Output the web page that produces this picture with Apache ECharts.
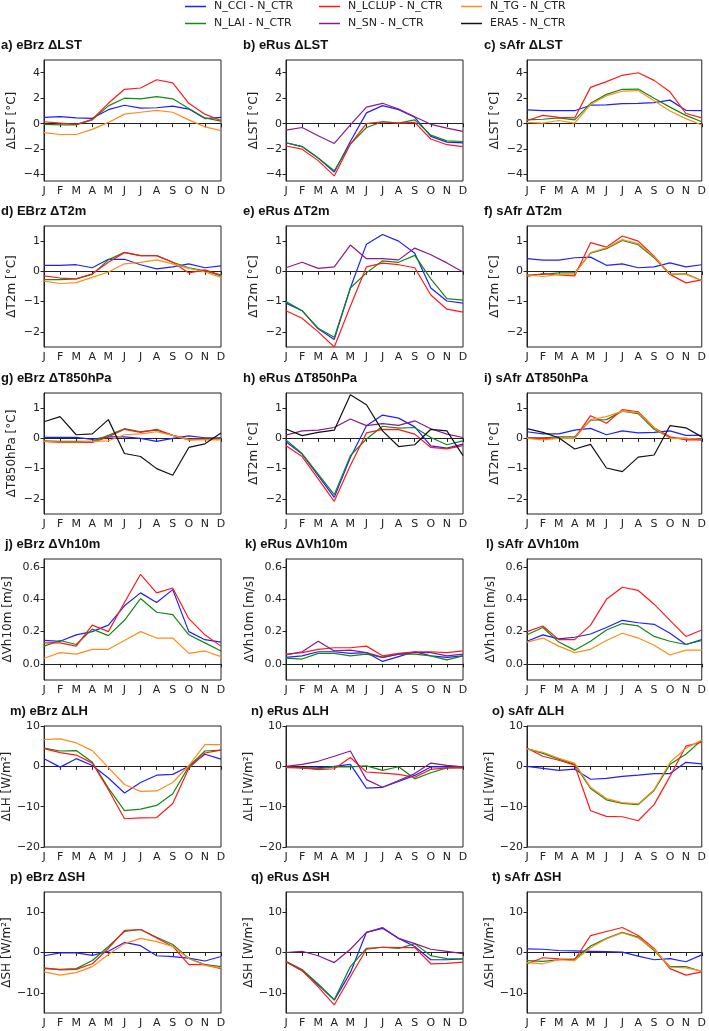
<!DOCTYPE html>
<html><head><meta charset="utf-8">
<script src="https://cdn.jsdelivr.net/npm/echarts@6/dist/echarts.min.js"></script>
<style>html,body{margin:0;padding:0;background:#fff}#c{width:709px;height:1031px}</style>
</head><body><div id="c"></div><script>
const MONTHS = ['J','F','M','A','M','J','J','A','S','O','N','D'];

// ---- LST ----
const lst_eBrz_CCI   = [0.5,0.55,0.45,0.42,1.1,1.45,1.22,1.25,1.38,1.15,0.4,0.5];
const lst_eBrz_LCLUP = [0.15,0.05,-0.05,0.35,1.6,2.7,2.8,3.45,3.2,1.6,0.75,0.25];
const lst_eBrz_TG    = [-0.7,-0.85,-0.85,-0.45,0.1,0.75,0.9,1.05,0.9,0.3,-0.25,-0.55];
const lst_eBrz_LAI   = [-0.05,-0.1,-0.1,0.3,1.4,2.0,1.95,2.12,1.95,1.2,0.45,0.2];
const lst_eRus_CCI   = [-1.5,-1.8,-2.7,-3.8,-1.4,0.85,1.42,1.1,0.5,-1.0,-1.45,-1.5];
const lst_eRus_LCLUP = [-1.75,-2.0,-2.9,-4.1,-1.6,0.0,0.15,0.05,0.1,-1.2,-1.65,-1.8];
const lst_eRus_LAI   = [-1.5,-1.8,-2.7,-3.7,-1.6,-0.3,0.15,0.05,0.3,-0.9,-1.35,-1.4];
const lst_eRus_SN    = [-0.5,-0.3,-0.95,-1.55,-0.1,1.3,1.6,1.15,0.55,-0.05,-0.35,-0.6];
const lst_sAfr_CCI   = [1.08,1.02,1.02,1.02,1.45,1.48,1.58,1.6,1.65,1.85,1.05,1.02];
const lst_sAfr_LCLUP = [0.25,0.65,0.5,0.45,2.85,3.3,3.8,4.0,3.4,2.5,0.8,0.45];
const lst_sAfr_TG    = [0.1,0.05,0.25,0.05,1.5,2.2,2.55,2.6,1.8,1.0,0.4,-0.1];
const lst_sAfr_LAI   = [0.3,0.35,0.45,0.3,1.6,2.3,2.7,2.72,2.0,1.3,0.65,0.15];

// ---- T2m ----
const t2m_eBrz_CCI   = [0.2,0.2,0.22,0.12,0.4,0.4,0.22,0.08,0.15,0.25,0.12,0.18];
const t2m_eBrz_LCLUP = [-0.15,-0.22,-0.25,-0.08,0.3,0.62,0.52,0.52,0.3,-0.05,0.05,-0.12];
const t2m_eBrz_TG    = [-0.32,-0.4,-0.37,-0.2,-0.02,0.25,0.3,0.38,0.25,0.1,-0.02,-0.2];
const t2m_eBrz_LAI   = [-0.27,-0.27,-0.25,-0.1,0.38,0.63,0.52,0.52,0.3,0.12,0.02,-0.15];
const t2m_eRus_CCI   = [-1.05,-1.3,-1.9,-2.25,-0.55,0.9,1.22,1.0,0.6,-0.55,-0.98,-1.05];
const t2m_eRus_LCLUP = [-1.3,-1.55,-2.0,-2.5,-1.15,0.15,0.27,0.22,0.12,-0.78,-1.25,-1.35];
const t2m_eRus_LAI   = [-1.0,-1.3,-1.88,-2.18,-0.55,-0.05,0.35,0.3,0.53,-0.25,-0.9,-0.95];
const t2m_eRus_SN    = [0.12,0.3,0.1,0.15,0.87,0.42,0.42,0.38,0.77,0.55,0.28,-0.02];
const t2m_sAfr_CCI   = [0.42,0.37,0.37,0.45,0.47,0.2,0.25,0.12,0.15,0.28,0.15,0.22];
const t2m_sAfr_LCLUP = [-0.17,-0.07,-0.12,-0.15,0.95,0.8,1.17,1.0,0.5,-0.1,-0.38,-0.28];
const t2m_sAfr_TG    = [-0.12,-0.17,-0.1,-0.08,0.62,0.78,1.05,0.92,0.48,-0.08,-0.1,-0.3];
const t2m_sAfr_LAI   = [-0.12,-0.1,-0.05,-0.05,0.6,0.75,1.02,0.88,0.45,-0.1,-0.08,-0.3];

// ---- T850hPa ----
const t850_eBrz_CCI   = [0.03,0.03,0.03,-0.03,0.05,0.05,0.0,-0.1,0.0,0.08,0.02,0.02];
const t850_eBrz_LCLUP = [-0.1,-0.13,-0.13,-0.13,0.05,0.3,0.2,0.3,0.1,-0.02,-0.02,-0.02];
const t850_eBrz_TG    = [-0.1,-0.12,-0.12,-0.1,-0.08,0.12,0.15,0.22,0.1,-0.05,-0.05,-0.05];
const t850_eBrz_LAI   = [-0.08,-0.1,-0.1,-0.1,0.1,0.32,0.22,0.27,0.1,-0.05,-0.02,0.0];
const t850_eBrz_ERA5  = [0.55,0.72,0.12,0.15,0.62,-0.5,-0.6,-1.0,-1.22,-0.3,-0.18,0.18];
const t850_eRus_CCI   = [-0.11,-0.52,-1.23,-1.95,-0.63,0.42,0.77,0.67,0.38,-0.25,-0.32,-0.19];
const t850_eRus_LCLUP = [-0.24,-0.6,-1.34,-2.08,-0.9,0.18,0.3,0.29,0.14,-0.3,-0.35,-0.24];
const t850_eRus_LAI   = [-0.05,-0.5,-1.18,-1.86,-0.57,-0.02,0.4,0.34,0.36,0.03,-0.21,-0.08];
const t850_eRus_SN    = [0.11,0.25,0.27,0.36,0.64,0.42,0.49,0.43,0.58,0.32,0.14,0.03];
const t850_eRus_ERA5  = [0.31,0.09,0.2,0.27,1.44,1.11,0.25,-0.27,-0.21,0.3,0.25,-0.57];
const t850_sAfr_CCI   = [0.22,0.15,0.15,0.27,0.33,0.12,0.25,0.18,0.2,0.25,0.1,0.1];
const t850_sAfr_LCLUP = [0.02,0.0,0.0,0.0,0.75,0.5,0.95,0.88,0.35,0.05,-0.05,-0.05];
const t850_sAfr_TG    = [0.0,-0.05,0.0,0.0,0.62,0.72,0.9,0.85,0.35,0.0,0.0,-0.02];
const t850_sAfr_LAI   = [0.02,0.02,0.05,0.05,0.6,0.62,0.9,0.82,0.3,0.02,0.0,-0.05];
const t850_sAfr_ERA5  = [0.32,0.2,0.02,-0.35,-0.2,-0.98,-1.1,-0.62,-0.55,0.42,0.35,0.05];

// ---- Vh10m ----
const vh_eBrz_CCI   = [0.145,0.14,0.18,0.2,0.24,0.36,0.44,0.38,0.46,0.2,0.15,0.135];
const vh_eBrz_LCLUP = [0.13,0.13,0.11,0.24,0.2,0.38,0.555,0.44,0.47,0.28,0.18,0.11];
const vh_eBrz_TG    = [0.035,0.07,0.06,0.09,0.09,0.145,0.2,0.16,0.16,0.065,0.08,0.045];
const vh_eBrz_LAI   = [0.11,0.145,0.12,0.215,0.175,0.27,0.405,0.32,0.305,0.18,0.13,0.08];
const vh_eRus_CCI   = [0.04,0.05,0.075,0.075,0.065,0.07,0.015,0.045,0.075,0.05,0.04,0.05];
const vh_eRus_LCLUP = [0.06,0.07,0.09,0.1,0.1,0.11,0.05,0.065,0.075,0.075,0.07,0.08];
const vh_eRus_LAI   = [0.035,0.03,0.065,0.065,0.05,0.06,0.04,0.06,0.06,0.05,0.025,0.05];
const vh_eRus_SN    = [0.055,0.075,0.14,0.08,0.085,0.07,0.04,0.06,0.07,0.07,0.05,0.06];
const vh_sAfr_CCI   = [0.14,0.18,0.155,0.165,0.185,0.225,0.27,0.255,0.245,0.19,0.12,0.15];
const vh_sAfr_LCLUP = [0.2,0.235,0.15,0.15,0.24,0.4,0.475,0.455,0.37,0.27,0.17,0.21];
const vh_sAfr_TG    = [0.135,0.16,0.11,0.07,0.09,0.145,0.19,0.16,0.115,0.055,0.085,0.085];
const vh_sAfr_LAI   = [0.18,0.225,0.135,0.085,0.14,0.21,0.25,0.235,0.17,0.14,0.12,0.145];

// ---- LH ----
const lh_eBrz_CCI   = [1.9,-0.2,1.9,0.2,-2.9,-6.6,-4.0,-2.2,-2.0,0.0,3.0,1.8];
const lh_eBrz_LCLUP = [4.4,3.4,2.8,0.8,-5.8,-13.0,-12.8,-12.7,-9.2,-0.5,3.3,4.0];
const lh_eBrz_TG    = [6.6,6.8,5.8,3.9,-0.3,-4.5,-6.2,-6.1,-4.0,0.2,5.4,5.4];
const lh_eBrz_LAI   = [4.5,3.8,3.9,1.0,-5.4,-11.0,-10.6,-9.7,-6.8,0.0,3.8,4.0];
const lh_eRus_CCI   = [-0.15,-0.3,-0.4,0.0,0.5,-5.4,-5.2,-3.75,-2.25,-0.15,-0.15,-0.15];
const lh_eRus_LCLUP = [-0.3,-0.4,-0.8,-0.6,2.2,-1.4,-1.7,-2.0,-2.7,-0.75,-0.4,-0.4];
const lh_eRus_LAI   = [-0.15,-0.4,-0.6,-0.15,-0.15,0.1,-1.0,-0.1,-3.1,-1.6,-0.4,-0.3];
const lh_eRus_SN    = [0.0,0.5,1.25,2.5,3.8,-3.3,-5.2,-3.5,-1.8,0.8,0.25,-0.15];
const lh_sAfr_CCI   = [0.0,-0.5,-1.0,-0.7,-3.2,-3.0,-2.5,-2.2,-1.8,-1.8,1.0,0.6];
const lh_sAfr_LCLUP = [4.5,2.5,1.5,0.3,-11.0,-12.4,-12.5,-13.5,-9.5,-2.5,5.0,6.0];
const lh_sAfr_TG    = [4.3,3.5,2.0,0.8,-5.2,-8.0,-9.0,-9.3,-5.8,1.0,4.5,6.5];
const lh_sAfr_LAI   = [4.4,3.2,1.8,0.5,-5.5,-8.3,-9.2,-9.5,-6.0,0.5,3.0,6.5];

// ---- SH ----
const sh_eBrz_CCI   = [-0.8,-0.1,-0.1,-0.7,0.3,2.5,1.7,-0.8,-1.0,-1.4,-2.1,-1.0];
const sh_eBrz_LCLUP = [-3.8,-4.3,-4.2,-2.8,1.0,5.5,5.7,3.6,1.5,-3.0,-3.0,-4.0];
const sh_eBrz_TG    = [-4.8,-5.6,-5.0,-3.5,-0.5,2.2,3.5,2.7,1.5,-1.5,-3.2,-3.8];
const sh_eBrz_LAI   = [-4.0,-4.2,-4.0,-2.0,1.5,5.2,5.7,3.8,2.0,-1.5,-3.0,-3.5];
const sh_eRus_CCI   = [-2.3,-4.5,-8.0,-11.8,-5.0,5.0,6.0,3.5,1.5,-1.8,-1.8,-1.6];
const sh_eRus_LCLUP = [-2.3,-4.5,-8.5,-13.0,-6.0,0.8,1.3,1.2,1.2,-2.8,-2.7,-2.4];
const sh_eRus_LAI   = [-2.2,-4.2,-7.8,-11.7,-3.5,1.0,1.3,1.0,2.2,-0.8,-1.5,-1.6];
const sh_eRus_SN    = [0.0,0.3,-0.8,-2.5,0.8,5.0,6.2,3.5,2.2,0.8,0.3,-0.3];
const sh_sAfr_CCI   = [0.9,0.8,0.5,0.4,0.3,0.2,0.1,-0.9,-1.8,-1.5,-2.3,-0.6];
const sh_sAfr_LCLUP = [-2.8,-1.3,-1.6,-1.8,4.2,5.2,6.2,4.2,1.0,-4.0,-5.6,-4.8];
const sh_sAfr_TG    = [-2.5,-2.8,-1.8,-2.0,1.2,3.4,4.9,3.6,0.8,-3.6,-3.8,-4.6];
const sh_sAfr_LAI   = [-2.0,-2.2,-1.8,-1.6,1.6,3.5,5.0,3.8,0.5,-3.5,-3.5,-4.7];

// ---- axis ticks per row ----
const LST_TICKS  = [-4,-2,0,2,4];
const T_TICKS    = [-2,-1,0,1];
const VH_TICKS   = [0,0.2,0.4,0.6];
const LH_TICKS   = [-20,-10,0,10];
const SH_TICKS   = [-10,0,10];

const NAMES = {CCI:'N_CCI - N_CTR', LCLUP:'N_LCLUP - N_CTR', TG:'N_TG - N_CTR', LAI:'N_LAI - N_CTR', SN:'N_SN - N_CTR', ERA5:'ERA5 - N_CTR'};
const COLORS = {CCI:'#1f1fff', LCLUP:'#ff1a1a', TG:'#ff8c1a', LAI:'#128a12', SN:'#8a1a8a', ERA5:'#111111'};
const ORDER = ['CCI','LAI','LCLUP','SN','TG','ERA5'];

const ROWS = [
  {min:-4.5, max:5, ticks:LST_TICKS, dec:0},
  {min:-2.5, max:1.5, ticks:T_TICKS, dec:0},
  {min:-2.5, max:1.5, ticks:T_TICKS, dec:0},
  {min:-0.1, max:0.65, ticks:VH_TICKS, dec:1},
  {min:-20, max:10, ticks:LH_TICKS, dec:0},
  {min:-15, max:15, ticks:SH_TICKS, dec:0}
];

const PANELS = [
  {t:'a) eBrz \u0394LST', r:0,c:0, y:'\u0394LST [\u00b0C]', s:{CCI:lst_eBrz_CCI,LAI:lst_eBrz_LAI,LCLUP:lst_eBrz_LCLUP,TG:lst_eBrz_TG}},
  {t:'b) eRus \u0394LST', r:0,c:1, y:'\u0394LST [\u00b0C]', s:{CCI:lst_eRus_CCI,LAI:lst_eRus_LAI,LCLUP:lst_eRus_LCLUP,SN:lst_eRus_SN}},
  {t:'c) sAfr \u0394LST', r:0,c:2, y:'\u0394LST [\u00b0C]', s:{CCI:lst_sAfr_CCI,LAI:lst_sAfr_LAI,LCLUP:lst_sAfr_LCLUP,TG:lst_sAfr_TG}},
  {t:'d) EBrz \u0394T2m', r:1,c:0, y:'\u0394T2m [\u00b0C]', s:{CCI:t2m_eBrz_CCI,LAI:t2m_eBrz_LAI,LCLUP:t2m_eBrz_LCLUP,TG:t2m_eBrz_TG}},
  {t:'e) eRus \u0394T2m', r:1,c:1, y:'\u0394T2m [\u00b0C]', s:{CCI:t2m_eRus_CCI,LAI:t2m_eRus_LAI,LCLUP:t2m_eRus_LCLUP,SN:t2m_eRus_SN}},
  {t:'f) sAfr \u0394T2m', r:1,c:2, y:'\u0394T2m [\u00b0C]', s:{CCI:t2m_sAfr_CCI,LAI:t2m_sAfr_LAI,LCLUP:t2m_sAfr_LCLUP,TG:t2m_sAfr_TG}},
  {t:'g) eBrz \u0394T850hPa', r:2,c:0, y:'\u0394T850hPa [\u00b0C]', s:{CCI:t850_eBrz_CCI,LAI:t850_eBrz_LAI,LCLUP:t850_eBrz_LCLUP,TG:t850_eBrz_TG,ERA5:t850_eBrz_ERA5}},
  {t:'h) eRus \u0394T850hPa', r:2,c:1, y:'\u0394T2m [\u00b0C]', s:{CCI:t850_eRus_CCI,LAI:t850_eRus_LAI,LCLUP:t850_eRus_LCLUP,SN:t850_eRus_SN,ERA5:t850_eRus_ERA5}},
  {t:'i) sAfr \u0394T850hPa', r:2,c:2, y:'\u0394T2m [\u00b0C]', s:{CCI:t850_sAfr_CCI,LAI:t850_sAfr_LAI,LCLUP:t850_sAfr_LCLUP,TG:t850_sAfr_TG,ERA5:t850_sAfr_ERA5}},
  {t:'j) eBrz \u0394Vh10m', r:3,c:0, y:'\u0394Vh10m [m/s]', s:{CCI:vh_eBrz_CCI,LAI:vh_eBrz_LAI,LCLUP:vh_eBrz_LCLUP,TG:vh_eBrz_TG}},
  {t:'k) eRus \u0394Vh10m', r:3,c:1, y:'\u0394Vh10m [m/s]', s:{CCI:vh_eRus_CCI,LAI:vh_eRus_LAI,LCLUP:vh_eRus_LCLUP,SN:vh_eRus_SN}},
  {t:'l) sAfr \u0394Vh10m', r:3,c:2, y:'\u0394Vh10m [m/s]', s:{CCI:vh_sAfr_CCI,LAI:vh_sAfr_LAI,LCLUP:vh_sAfr_LCLUP,TG:vh_sAfr_TG}},
  {t:'m) eBrz \u0394LH', r:4,c:0, y:'\u0394LH [W/m\u00b2]', s:{CCI:lh_eBrz_CCI,LAI:lh_eBrz_LAI,LCLUP:lh_eBrz_LCLUP,TG:lh_eBrz_TG}},
  {t:'n) eRus \u0394LH', r:4,c:1, y:'\u0394LH [W/m\u00b2]', s:{CCI:lh_eRus_CCI,LAI:lh_eRus_LAI,LCLUP:lh_eRus_LCLUP,SN:lh_eRus_SN}},
  {t:'o) sAfr \u0394LH', r:4,c:2, y:'\u0394LH [W/m\u00b2]', s:{CCI:lh_sAfr_CCI,LAI:lh_sAfr_LAI,LCLUP:lh_sAfr_LCLUP,TG:lh_sAfr_TG}},
  {t:'p) eBrz \u0394SH', r:5,c:0, y:'\u0394SH [W/m\u00b2]', s:{CCI:sh_eBrz_CCI,LAI:sh_eBrz_LAI,LCLUP:sh_eBrz_LCLUP,TG:sh_eBrz_TG}},
  {t:'q) eRus \u0394SH', r:5,c:1, y:'\u0394SH [W/m\u00b2]', s:{CCI:sh_eRus_CCI,LAI:sh_eRus_LAI,LCLUP:sh_eRus_LCLUP,SN:sh_eRus_SN}},
  {t:'t) sAfr \u0394SH', r:5,c:2, y:'\u0394SH [W/m\u00b2]', s:{CCI:sh_sAfr_CCI,LAI:sh_sAfr_LAI,LCLUP:sh_sAfr_LCLUP,TG:sh_sAfr_TG}}
];

// ---- layout ----
const COL_X = [44, 286, 527], PW = 177;
const ROW_Y = [60, 226, 393, 559, 726, 892], PH = 121;
const TITLE_X = [[1,243,484],[1,243,484],[1,243,484],[5,245,486],[10,251,492],[10,251,492]];
const AX = '#222';
const FONT = 'DejaVu Sans';

const grids=[], xAxes=[], yAxes=[], series=[], titles=[];
PANELS.forEach((p,i)=>{
  const rd = ROWS[p.r];
  grids.push({left:COL_X[p.c], top:ROW_Y[p.r], width:PW, height:PH, show:true, borderColor:AX, borderWidth:1});
  xAxes.push({gridIndex:i, type:'category', data:MONTHS, boundaryGap:false,
    axisLine:{show:true, lineStyle:{color:AX, width:1}},
    axisTick:{show:true, interval:0, length:3.5, lineStyle:{color:AX}},
    axisLabel:{interval:0, fontSize:11, color:'#222', margin:5, fontFamily:FONT},
    splitLine:{show:false}});
  yAxes.push({gridIndex:i, type:'value', min:rd.min, max:rd.max,
    name:p.y, nameLocation:'middle', nameGap:rd.dec ? 30 : 26,
    nameTextStyle:{fontSize:12, color:'#222', fontFamily:FONT},
    axisLine:{show:true, lineStyle:{color:AX, width:1}},
    axisTick:{show:true, customValues:rd.ticks, length:3.5, lineStyle:{color:AX}},
    axisLabel:{customValues:rd.ticks, fontSize:11, color:'#222', margin:4, fontFamily:FONT,
      formatter:v=>(v<0?'\u2212':'')+Math.abs(v).toFixed(rd.dec)},
    splitLine:{show:false}});
  titles.push({text:p.t, left:TITLE_X[p.r][p.c], top:ROW_Y[p.r]-21, padding:0,
    textStyle:{fontSize:13, fontWeight:'bold', color:'#111', fontFamily:'Liberation Sans'}});
  ORDER.forEach(k=>{
    if(!p.s[k]) return;
    series.push({type:'line', name:NAMES[k], xAxisIndex:i, yAxisIndex:i, data:p.s[k],
      showSymbol:false, symbol:'none', color:COLORS[k],
      lineStyle:{width:1.2, color:COLORS[k]}, itemStyle:{color:COLORS[k]}, silent:true});
  });
});

const LEG = [['CCI',185,1],['LCLUP',319,1],['TG',461,1],['LAI',185,18],['SN',319,18],['ERA5',461,18]];
const legends = LEG.map(([k,x,y])=>({data:[NAMES[k]], left:x, top:y, padding:0, itemGap:0,
  icon:'rect', itemWidth:21, itemHeight:1.5, selectedMode:false,
  textStyle:{fontSize:11, color:'#222', fontFamily:FONT, padding:[0,0,0,3]}}));

const chart = echarts.init(document.getElementById('c'));
chart.setOption({animation:false, backgroundColor:'#fff', title:titles, legend:legends,
  grid:grids, xAxis:xAxes, yAxis:yAxes, series:series});
</script></body></html>
